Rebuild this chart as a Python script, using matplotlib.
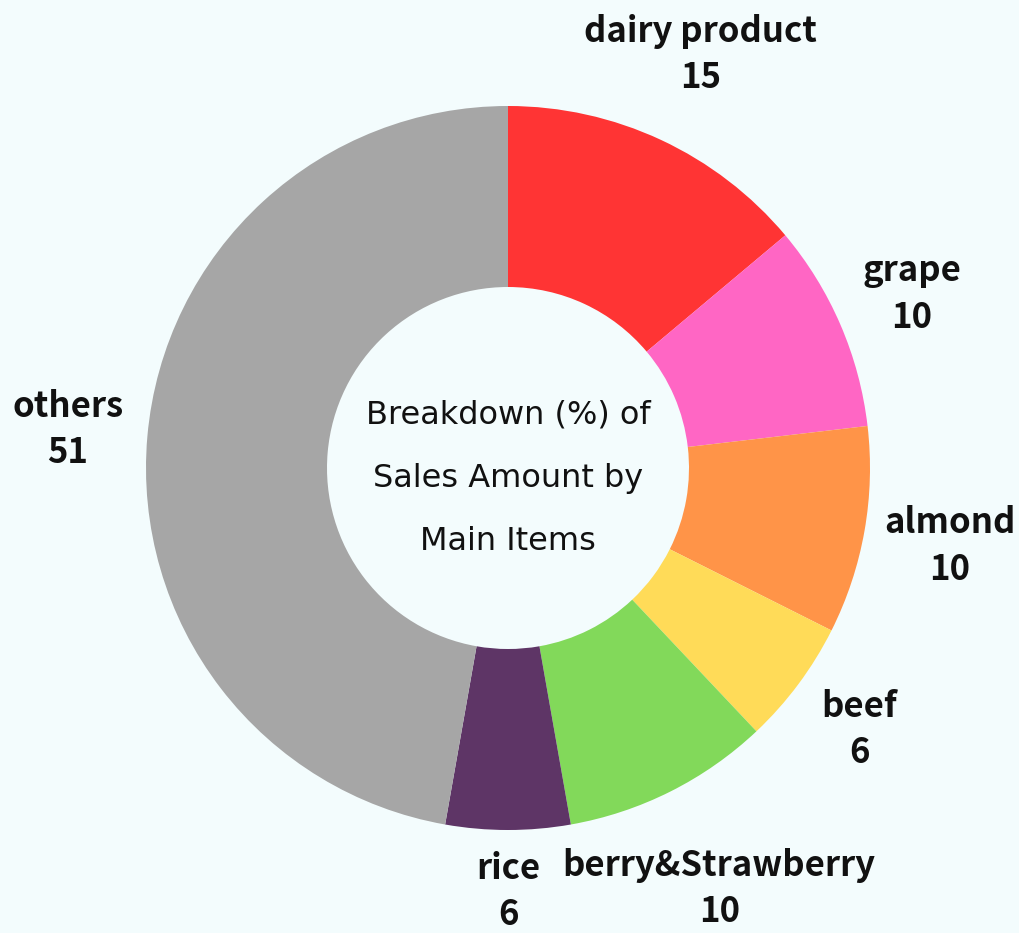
import numpy as np
import matplotlib.pyplot as plt

items = ["dairy product", "grape", "almond", "beef", "berry&Strawberry", "rice", "others"]
shares = [15, 10, 10, 6, 10, 6, 51]
colors = ["#FF3434", "#FF66C4", "#FF9448", "#FFDB58", "#82D95A", "#5E3566", "#A6A6A6"]
center_title = "Breakdown (%) of\nSales Amount by\nMain Items"

bg = "#F3FCFD"

# label distance from centre (pie radius = 1)
label_dist = [1.26, 1.215, 1.24, 1.21, 1.30, 1.17, 1.22]

fig = plt.figure(figsize=(10.19, 9.33), dpi=100, facecolor=bg)
L = 460
R = 362
ax = fig.add_axes([(508 - L) / 1019, (933 - 468 - L) / 933, 2 * L / 1019, 2 * L / 933])
ax.set_facecolor(bg)

wedges, _ = ax.pie(shares, colors=colors, startangle=90, counterclock=False,
                   radius=1.0, wedgeprops=dict(width=0.5, linewidth=0))

font = "Noto Sans CJK KR"
for w, name, val, dist in zip(wedges, items, shares, label_dist):
    mid = np.deg2rad((w.theta1 + w.theta2) / 2)
    x, y = dist * np.cos(mid), dist * np.sin(mid)
    ax.text(x, y, f"{name}\n{val}", ha="center", va="center", multialignment="center",
            fontsize=25, fontweight="heavy", family=[font, "DejaVu Sans"],
            linespacing=1.42, color="#111111", clip_on=False)

ax.text(0, -0.028, center_title, ha="center", va="center", multialignment="center",
        fontsize=23, fontweight="medium", family=["DejaVu Sans"], linespacing=2.33,
        color="#111111")

S = L / R
ax.set_xlim(-S, S)
ax.set_ylim(-S, S)
ax.set_aspect("equal")
ax.axis("off")

fig.savefig("out.png", dpi=100, facecolor=bg)
